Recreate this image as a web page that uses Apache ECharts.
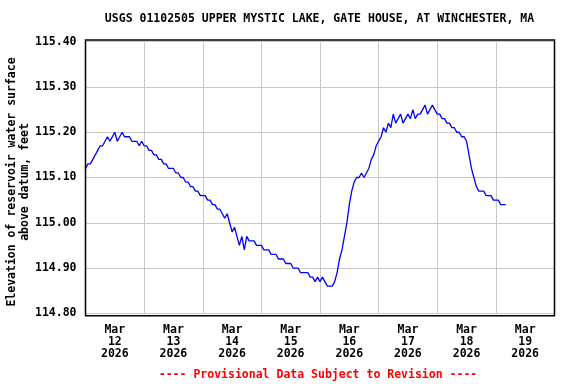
<!DOCTYPE html>
<html>
<head>
<meta charset="utf-8">
<script src="https://cdn.jsdelivr.net/npm/echarts@6/dist/echarts.min.js"></script>
<style>html,body{margin:0;padding:0;background:#fff;}#c{width:576px;height:384px;}</style>
</head>
<body>
<div id="c"></div>
<script>
// Hours since Mar 12 2026 00:00 and gauge height (ft)
var hours = [];
for (var h = 0; h <= 172; h++) hours.push(h);
var stage = [
115.12,115.13,115.13,115.14,115.15,115.16,115.17,115.17,115.18,115.19,115.18,115.19,115.20,115.18,115.19,115.20,115.19,115.19,115.19,115.18,115.18,115.18,115.17,115.18,
115.17,115.17,115.16,115.16,115.15,115.15,115.14,115.14,115.13,115.13,115.12,115.12,115.12,115.11,115.11,115.10,115.10,115.09,115.09,115.08,115.08,115.07,115.07,115.06,
115.06,115.06,115.05,115.05,115.04,115.04,115.03,115.03,115.02,115.01,115.02,115.00,114.98,114.99,114.97,114.95,114.97,114.94,114.97,114.96,114.96,114.96,114.95,114.95,
114.95,114.94,114.94,114.94,114.93,114.93,114.93,114.92,114.92,114.92,114.91,114.91,114.91,114.90,114.90,114.90,114.89,114.89,114.89,114.89,114.88,114.88,114.87,114.88,
114.87,114.88,114.87,114.86,114.86,114.86,114.87,114.89,114.92,114.94,114.97,115.00,115.04,115.07,115.09,115.10,115.10,115.11,115.10,115.11,115.12,115.14,115.15,115.17,
115.18,115.19,115.21,115.20,115.22,115.21,115.24,115.22,115.23,115.24,115.22,115.23,115.24,115.23,115.25,115.23,115.24,115.24,115.25,115.26,115.24,115.25,115.26,115.25,
115.24,115.24,115.23,115.23,115.22,115.22,115.21,115.21,115.20,115.20,115.19,115.19,115.18,115.15,115.12,115.10,115.08,115.07,115.07,115.07,115.06,115.06,115.06,115.05,
115.05,115.05,115.04,115.04,115.04
];
var dayLabels = ['Mar\n12\n2026','Mar\n13\n2026','Mar\n14\n2026','Mar\n15\n2026','Mar\n16\n2026','Mar\n17\n2026','Mar\n18\n2026','Mar\n19\n2026'];
var yTicks = [114.80, 114.90, 115.00, 115.10, 115.20, 115.30, 115.40];
var titleText = 'USGS 01102505 UPPER MYSTIC LAKE, GATE HOUSE, AT WINCHESTER, MA';
var yTitle = 'Elevation of reservoir water surface\nabove datum, feet';
var footer = '---- Provisional Data Subject to Revision ----';

var data = hours.map(function (t, i) { return [t, stage[i]]; });
var FONT = '"DejaVu Sans Mono", monospace';

var chart = echarts.init(document.getElementById('c'), null, {renderer: 'canvas'});
chart.setOption({
  animation: false,
  backgroundColor: '#ffffff',
  grid: {left: 85.5, right: 21.5, top: 41.7, height: 271.6, containLabel: false},
  xAxis: [
    {type: 'value', min: 0, max: 192, interval: 24,
     axisLine: {show: false}, axisTick: {show: false}, axisLabel: {show: false},
     splitLine: {show: true, lineStyle: {color: '#c8c8c8', width: 1}}},
    {type: 'category', data: dayLabels, boundaryGap: true, position: 'bottom',
     axisLine: {show: false}, axisTick: {show: false}, splitLine: {show: false},
     axisLabel: {show: true, interval: 0, margin: 11, color: '#000', fontFamily: FONT,
       fontWeight: 'bold', fontSize: 11.5, lineHeight: 12}}
  ],
  yAxis: {type: 'value', min: yTicks[0], max: yTicks[yTicks.length - 1], interval: 0.1,
    axisLine: {show: false}, axisTick: {show: false},
    axisLabel: {margin: 9, color: '#000', fontFamily: FONT, fontWeight: 'bold', fontSize: 11.5,
      formatter: function (v) { return v.toFixed(2); }},
    splitLine: {show: true, lineStyle: {color: '#c8c8c8', width: 1}}},
  series: [{type: 'line', xAxisIndex: 0, data: data, showSymbol: false, symbol: 'none',
    lineStyle: {color: '#0000ff', width: 1.3}, silent: true}],
  graphic: [
    {type: 'rect', shape: {x: 85.5, y: 40, width: 469, height: 275.7}, silent: true,
     style: {fill: null, stroke: '#000', lineWidth: 1.5}, z: 100},
    {type: 'text', x: 319.5, y: 19, silent: true,
     style: {text: titleText, font: 'bold 11.5px ' + FONT, fill: '#000', align: 'center', verticalAlign: 'middle'}},
    {type: 'text', x: 18.3, y: 182, rotation: Math.PI / 2, silent: true,
     style: {text: yTitle, font: 'bold 11.5px ' + FONT, fill: '#000', align: 'center', verticalAlign: 'middle', lineHeight: 12.5}},
    {type: 'text', x: 318, y: 375, silent: true,
     style: {text: footer, font: 'bold 11.5px ' + FONT, fill: '#ff0000', align: 'center', verticalAlign: 'middle'}}
  ]
});
</script>
</body>
</html>
